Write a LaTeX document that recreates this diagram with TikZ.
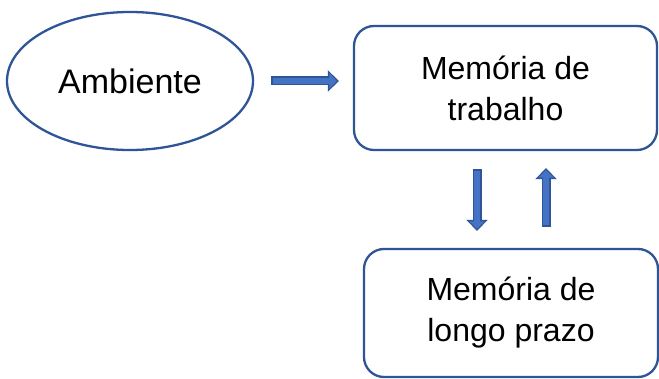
\documentclass[tikz,border=0pt]{standalone}
\usepackage{fontspec}
\setmainfont{Liberation Sans}
\usetikzlibrary{shapes.geometric,arrows.meta}
\definecolor{bordblue}{HTML}{2F5597}
\definecolor{fillblue}{HTML}{4472C4}
\tikzset{
  lbl/.style={font=\fontsize{32}{41}\selectfont, align=center, text=black, inner sep=0pt},
  oval/.style={ellipse, draw=bordblue, line width=2.3pt, minimum width=246pt, minimum height=138pt, lbl, font=\fontsize{34}{41}\selectfont},
  rbox/.style={rectangle, rounded corners=20pt, draw=bordblue, line width=2.3pt, lbl},
  barrowout/.style={draw=bordblue, line width=9pt, -{Triangle[width=21pt,length=11pt]}},
  barrowin/.style={draw=fillblue, line width=5.5pt, -{Triangle[width=15pt,length=7.5pt]}},
}
\begin{document}
\begin{tikzpicture}[x=1pt,y=-1pt]
\useasboundingbox (0,0) rectangle (659,379);
\node[oval] (amb) at (130,81) {Ambiente};
\node[rbox, minimum width=303pt, minimum height=124pt] (wm) at (505.5,88) {Memória de\\trabalho};
\node[rbox, minimum width=294pt, minimum height=128pt] (lt) at (511,313) {Memória de\\longo prazo};
\coordinate (dx) at (477,0);
\coordinate (ux) at (546,0);
% right arrow
\draw[barrowout, shorten <=17pt, shorten >=14pt] (amb.east) -- (wm.west |- amb.east);
\draw[barrowin, shorten <=18.5pt, shorten >=16pt] (amb.east) -- (wm.west |- amb.east);
% down arrow
\draw[barrowout, shorten <=18pt, shorten >=17pt] (wm.south -| dx) -- (lt.north -| dx);
\draw[barrowin, shorten <=19.5pt, shorten >=19pt] (wm.south -| dx) -- (lt.north -| dx);
% up arrow
\draw[barrowout, shorten <=21pt, shorten >=17pt] (lt.north -| ux) -- (wm.south -| ux);
\draw[barrowin, shorten <=22.5pt, shorten >=19pt] (lt.north -| ux) -- (wm.south -| ux);
\end{tikzpicture}
\end{document}
